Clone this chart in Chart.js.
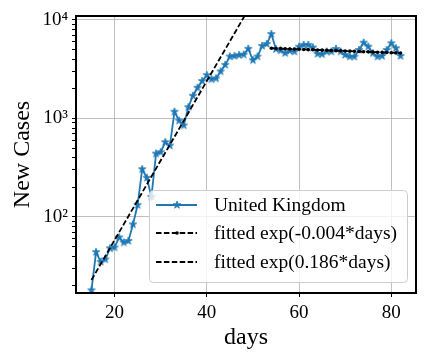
<!DOCTYPE html>
<html>
<head>
<meta charset="utf-8">
<script src="https://cdn.jsdelivr.net/npm/chart.js@4.4.0/dist/chart.umd.min.js"></script>
<style>
  html, body { margin: 0; padding: 0; background: #fff; }
  #wrap { width: 432px; height: 360px; }
</style>
</head>
<body>
<div id="wrap"><canvas id="chart" width="432" height="360"></canvas></div>
<script>
// UK daily new cases
const days = [15, 16, 17, 18, 19, 20, 21, 22, 23, 24, 25, 26, 27, 28, 29, 30, 31, 32, 33, 34,
              35, 36, 37, 38, 39, 40, 41, 42, 43, 44, 45, 46, 47, 48, 49, 50, 51, 52, 53, 54,
              55, 56, 57, 58, 59, 60, 61, 62, 63, 64, 65, 66, 67, 68, 69, 70, 71, 72, 73, 74,
              75, 76, 77, 78, 79, 80, 81, 82];
const ukCases = [18, 44, 35, 37, 48, 49, 62, 55, 57, 84, 132, 305, 250, 160, 440, 455, 575, 530, 1170, 950,
                 850, 1300, 1700, 2050, 2400, 2750, 2500, 2550, 3000, 3500, 4250, 4300, 4400, 4450, 5100, 3900, 4250, 5450, 5700, 7200,
                 5050, 4900, 4600, 4850, 4770, 5350, 5580, 5580, 5250, 4520, 4480, 4770, 4770, 5080, 4770, 4410, 4240, 4240, 4960, 5880,
                 5360, 4590, 4240, 4300, 4960, 5800, 5160, 4300];

// plateau fit, exp(-0.004*days)
const decayDays = [54, 55, 56, 57, 58, 59, 60, 61, 62, 63, 64, 65, 66, 67, 68, 69, 70, 71, 72, 73,
                   74, 75, 76, 77, 78, 79, 80, 81, 82];
const decayFit = [5160, 5139, 5119, 5098, 5078, 5058, 5038, 5018, 4998, 4978, 4958, 4938, 4918, 4899, 4879, 4860, 4840, 4821, 4802, 4782,
                  4763, 4744, 4725, 4707, 4688, 4669, 4650, 4632, 4613];

// growth fit, exp(0.186*days) - straight on log axis, runs off the top
const growthDays = [15, 53];
const growthFit = [22.9, 26900];

const xTicks = [20, 40, 60, 80];
const yMajor = [100, 1000, 10000];
const yMajorLabels = ['10\u00b2', '10\u00b3', '10\u2074'];
const legendLabels = ['United Kingdom', 'fitted exp(-0.004*days)', 'fitted exp(0.186*days)'];

const X_MIN = 11.65, X_MAX = 85.35;
const Y_MIN = 16.9, Y_MAX = 10970;

const BLUE = '#1f77b4';
const GRID = '#b0b0b0';
const FONT = "'Liberation Serif', 'Times New Roman', serif";

Chart.defaults.font.family = FONT;
Chart.defaults.color = '#000';

// filled 5-point star like matplotlib '*'
function makeStar(r, color) {
    const s = Math.ceil(r * 2 + 2);
    const c = document.createElement('canvas');
    c.width = c.height = s;
    const g = c.getContext('2d');
    g.beginPath();
    for (let i = 0; i < 10; i++) {
        const a = -Math.PI / 2 + i * Math.PI / 5;
        const rr = i % 2 ? r * 0.38 : r;
        g.lineTo(s / 2 + rr * Math.cos(a), s / 2 + rr * Math.sin(a));
    }
    g.closePath();
    g.fillStyle = color;
    g.fill();
    g.strokeStyle = color;
    g.lineWidth = 0.8;
    g.stroke();
    return c;
}
const starImg = makeStar(4, BLUE);

function isMajor(v) {
    return yMajor.some(m => Math.abs(v - m) < 1e-6);
}

// log minor tick positions (2..9 x 10^n) inside range
function yTickList() {
    const out = [];
    [10, 100, 1000, 10000].forEach(dec => {
        for (let m = 1; m <= 9; m++) {
            const v = m * dec;
            if (v >= Y_MIN && v <= Y_MAX) out.push({ value: v });
        }
    });
    return out;
}

const toPts = (xs, ys) => xs.map((x, i) => ({ x: x, y: ys[i] }));

// black frame around the axes
const framePlugin = {
    id: 'frame',
    afterDatasetsDraw(chart) {
        const { ctx, chartArea: a } = chart;
        ctx.save();
        ctx.strokeStyle = '#000';
        ctx.lineWidth = 2;
        ctx.strokeRect(a.left, a.top, a.right - a.left, a.bottom - a.top);
        ctx.restore();
    }
};

// matplotlib-style legend in the lower right of the axes
const legendPlugin = {
    id: 'mplLegend',
    afterDraw(chart) {
        const ctx = chart.ctx;
        const box = { x: 149, y: 190, w: 258, h: 92, r: 4 };
        ctx.save();
        ctx.beginPath();
        ctx.roundRect(box.x + 0.5, box.y + 0.5, box.w, box.h, box.r);
        ctx.fillStyle = 'rgba(255,255,255,0.8)';
        ctx.fill();
        ctx.strokeStyle = '#cccccc';
        ctx.lineWidth = 1;
        ctx.stroke();

        const rows = [205, 233, 262];
        chart.data.datasets.forEach((ds, i) => {
            const y = rows[i];
            ctx.beginPath();
            ctx.setLineDash(ds.borderDash || []);
            ctx.strokeStyle = ds.borderColor;
            ctx.lineWidth = ds.borderWidth;
            ctx.moveTo(156, y);
            ctx.lineTo(197, y);
            ctx.stroke();
            ctx.setLineDash([]);
            if (ds.pointStyle === starImg) {
                ctx.drawImage(starImg, 177 - starImg.width / 2, y - starImg.height / 2);
            } else if (ds.pointRadius > 0) {
                ctx.beginPath();
                ctx.arc(177, y, ds.pointRadius, 0, Math.PI * 2);
                ctx.fillStyle = ds.pointBackgroundColor;
                ctx.fill();
            }
            ctx.fillStyle = '#000';
            ctx.font = '19.5px ' + FONT;
            ctx.textBaseline = 'middle';
            ctx.textAlign = 'left';
            ctx.fillText(legendLabels[i], 214, y + 1);
        });
        ctx.restore();
    }
};

new Chart(document.getElementById('chart'), {
    type: 'line',
    data: {
        datasets: [
            {
                label: legendLabels[0],
                data: toPts(days, ukCases),
                borderColor: BLUE,
                borderWidth: 1.8,
                pointStyle: starImg,
                pointRadius: 4,
                order: 3
            },
            {
                label: legendLabels[1],
                data: toPts(decayDays, decayFit),
                borderColor: '#000',
                borderWidth: 1.8,
                borderDash: [5.5, 2.4],
                pointStyle: 'circle',
                pointRadius: 1.8,
                pointBorderWidth: 0,
                pointBackgroundColor: '#000',
                order: 1
            },
            {
                label: legendLabels[2],
                data: toPts(growthDays, growthFit),
                borderColor: '#000',
                borderWidth: 1.8,
                borderDash: [5.5, 2.4],
                pointRadius: 0,
                order: 2
            }
        ]
    },
    options: {
        responsive: false,
        animation: false,
        events: [],
        layout: { padding: { left: 0, top: 16, right: 16, bottom: 0 } },
        plugins: {
            legend: { display: false },
            tooltip: { enabled: false }
        },
        elements: { line: { tension: 0, fill: false } },
        scales: {
            x: {
                type: 'linear',
                min: X_MIN,
                max: X_MAX,
                afterBuildTicks: s => { s.ticks = xTicks.map(v => ({ value: v })); },
                afterFit: s => { s.height = 67; },
                border: { display: false },
                grid: { color: GRID, lineWidth: 0.8, tickColor: '#000', tickLength: 4, tickWidth: 1 },
                ticks: { font: { size: 19 }, padding: 5, color: '#000', maxRotation: 0, autoSkip: false },
                title: { display: true, text: 'days', font: { size: 24 }, padding: { top: 0, bottom: 8 }, color: '#000' }
            },
            y: {
                type: 'logarithmic',
                min: Y_MIN,
                max: Y_MAX,
                afterBuildTicks: s => { s.ticks = yTickList(); },
                afterFit: s => { s.width = 76; },
                border: { display: false },
                grid: {
                    color: c => isMajor(c.tick.value) ? GRID : 'rgba(0,0,0,0)',
                    lineWidth: 0.8,
                    tickColor: '#000',
                    tickLength: 4,
                    tickWidth: 1
                },
                ticks: {
                    font: { size: 19 },
                    padding: 4,
                    color: '#000',
                    autoSkip: false,
                    callback: v => {
                        const k = yMajor.findIndex(m => Math.abs(v - m) < 1e-6);
                        return k >= 0 ? yMajorLabels[k] : '';
                    }
                },
                title: { display: true, text: 'New Cases', font: { size: 24 }, padding: { top: 8 }, color: '#000' }
            }
        }
    },
    plugins: [framePlugin, legendPlugin]
});
</script>
</body>
</html>
